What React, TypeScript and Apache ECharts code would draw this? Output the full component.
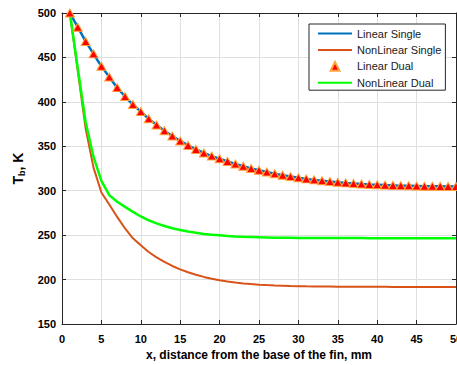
import React, { useEffect, useRef } from "react";
import * as echarts from "echarts";

const xMm = [1, 2, 3, 4, 5, 6, 7, 8, 9, 10, 11, 12, 13, 14, 15, 16, 17, 18, 19, 20, 21, 22, 23, 24, 25, 26, 27, 28, 29, 30, 31, 32, 33, 34, 35, 36, 37, 38, 39, 40, 41, 42, 43, 44, 45, 46, 47, 48, 49, 50];

const linearSingle = [500, 484, 468, 454, 440, 428, 416, 406, 397, 389, 381, 374, 367.5, 361.5, 356, 351, 346.5, 342.5, 339, 336, 333, 330, 327.5, 325, 323, 321, 319, 317.5, 316, 314.5, 313.3, 312.2, 311.2, 310.3, 309.5, 308.8, 308.2, 307.6, 307.1, 306.7, 306.3, 306, 305.7, 305.5, 305.3, 305.1, 305, 304.9, 304.8, 304.8];

const nonLinearSingle = [500, 435, 370, 326, 298, 284.5, 270.5, 257.5, 246.5, 238.5, 231, 225, 219.8, 215.3, 211.5, 208.2, 205.4, 203, 201, 199.3, 197.9, 196.7, 195.7, 194.9, 194.3, 193.8, 193.4, 193.1, 192.8, 192.6, 192.4, 192.3, 192.2, 192.1, 192, 192, 191.9, 191.9, 191.8, 191.8, 191.8, 191.7, 191.7, 191.7, 191.7, 191.6, 191.6, 191.6, 191.6, 191.6];

const linearDual = [500, 484, 468, 454, 440, 428, 416, 406, 397, 389, 381, 374, 367.5, 361.5, 356, 351, 346.5, 342.5, 339, 336, 333, 330, 327.5, 325, 323, 321, 319, 317.5, 316, 314.5, 313.3, 312.2, 311.2, 310.3, 309.5, 308.8, 308.2, 307.6, 307.1, 306.7, 306.3, 306, 305.7, 305.5, 305.3, 305.1, 305, 304.9, 304.8, 304.8];

const nonLinearDual = [500, 438, 377, 338, 311, 295, 287.5, 281.8, 276.2, 271, 266.7, 263.2, 260.3, 257.8, 255.7, 254, 252.6, 251.4, 250.5, 249.8, 249.1, 248.6, 248.2, 247.9, 247.6, 247.4, 247.2, 247.1, 247, 246.9, 246.9, 246.8, 246.8, 246.8, 246.7, 246.7, 246.7, 246.7, 246.6, 246.6, 246.6, 246.6, 246.6, 246.6, 246.5, 246.5, 246.5, 246.5, 246.5, 246.5];

const seriesNames = ["Linear Single", "NonLinear Single", "Linear Dual", "NonLinear Dual"];

const pairs = (ys: number[]) => xMm.map((x, i) => [x, ys[i]]);

const FONT = "Liberation Sans, Arial, sans-serif";
const AXIS_COLOR = "#262626";
const GRID_COLOR = "#dfdfdf";

export default function App() {
  const ref = useRef<HTMLDivElement>(null);

  useEffect(() => {
    if (!ref.current) return;
    const chart = echarts.init(ref.current, null, { renderer: "svg" });
    const tickStyle = { show: true, inside: true, length: 4, lineStyle: { color: AXIS_COLOR, width: 1 } };
    const lineStyle = { color: AXIS_COLOR, width: 1 };
    const hidden = { opacity: 0 };
    chart.setOption({
      animation: false,
      backgroundColor: "#ffffff",
      grid: { left: 62, right: 1, top: 13, bottom: 41, containLabel: false, outerBoundsMode: "none" },
      legend: {
        data: [
          { name: seriesNames[0], itemStyle: hidden },
          { name: seriesNames[1], itemStyle: hidden },
          { name: seriesNames[2] },
          { name: seriesNames[3], itemStyle: hidden },
        ],
        orient: "vertical",
        left: 309,
        top: 24,
        backgroundColor: "#ffffff",
        borderColor: AXIS_COLOR,
        borderWidth: 1,
        padding: [4, 4, 2, 8],
        itemWidth: 34,
        itemHeight: 11,
        itemGap: 5.4,
        textStyle: { fontSize: 11, color: "#1a1a1a", fontFamily: FONT },
      },
      xAxis: [
        {
          type: "value",
          min: 0,
          max: 50,
          interval: 5,
          name: "x, distance from the base of the fin, mm",
          nameLocation: "middle",
          nameGap: 23,
          nameTextStyle: { fontSize: 12, fontWeight: "bold", color: "#000", fontFamily: FONT },
          axisLine: { show: true, onZero: false, lineStyle },
          axisTick: tickStyle,
          axisLabel: { fontSize: 11, fontWeight: "bold", color: "#000", fontFamily: FONT, margin: 9 },
          splitLine: { show: true, lineStyle: { color: GRID_COLOR, width: 1 } },
        },
        {
          type: "value",
          position: "top",
          min: 0,
          max: 50,
          interval: 5,
          axisLine: { show: true, onZero: false, lineStyle },
          axisTick: tickStyle,
          axisLabel: { show: false },
          splitLine: { show: false },
        },
      ],
      yAxis: [
        {
          type: "value",
          min: 150,
          max: 500,
          interval: 50,
          name: "{a|T}{b|b}{a|, K}",
          nameLocation: "middle",
          nameRotate: 90,
          nameGap: 28,
          nameTextStyle: {
            fontFamily: FONT,
            color: "#000",
            rich: {
              a: { fontSize: 14, fontWeight: "bold", fontFamily: FONT, color: "#000", lineHeight: 16, verticalAlign: "top" },
              b: { fontSize: 9, fontWeight: "bold", fontFamily: FONT, color: "#000", lineHeight: 9, padding: [10, 0, 0, 0], verticalAlign: "bottom" },
            },
          },
          axisLine: { show: true, onZero: false, lineStyle },
          axisTick: tickStyle,
          axisLabel: { fontSize: 11, fontWeight: "bold", color: "#000", fontFamily: FONT, margin: 6 },
          splitLine: { show: true, lineStyle: { color: GRID_COLOR, width: 1 } },
        },
        {
          type: "value",
          position: "right",
          min: 150,
          max: 500,
          interval: 50,
          axisLine: { show: true, onZero: false, lineStyle },
          axisTick: tickStyle,
          axisLabel: { show: false },
          splitLine: { show: false },
        },
      ],
      series: [
        {
          name: seriesNames[0],
          type: "line",
          data: pairs(linearSingle),
          symbol: "none",
          color: "#0072BD",
          lineStyle: { color: "#0072BD", width: 2.5 },
          z: 2,
        },
        {
          name: seriesNames[1],
          type: "line",
          data: pairs(nonLinearSingle),
          symbol: "none",
          color: "#D95319",
          lineStyle: { color: "#D95319", width: 2 },
          z: 2,
        },
        {
          name: seriesNames[2],
          type: "line",
          data: pairs(linearDual),
          symbol: "triangle",
          symbolSize: [9, 8],
          showSymbol: true,
          color: "#ff0000",
          itemStyle: { color: "#ff0000", borderColor: "#ffa33a", borderWidth: 1 },
          lineStyle: { width: 0, opacity: 0 },
          z: 4,
        },
        {
          name: seriesNames[3],
          type: "line",
          data: pairs(nonLinearDual),
          symbol: "none",
          color: "#00ff00",
          lineStyle: { color: "#00ff00", width: 2.5 },
          z: 3,
        },
      ],
    });
    return () => chart.dispose();
  }, []);

  return (
    <div
      ref={ref}
      style={{ position: "fixed", left: 0, top: 0, width: 457, height: 365, background: "#fff" }}
    />
  );
}
